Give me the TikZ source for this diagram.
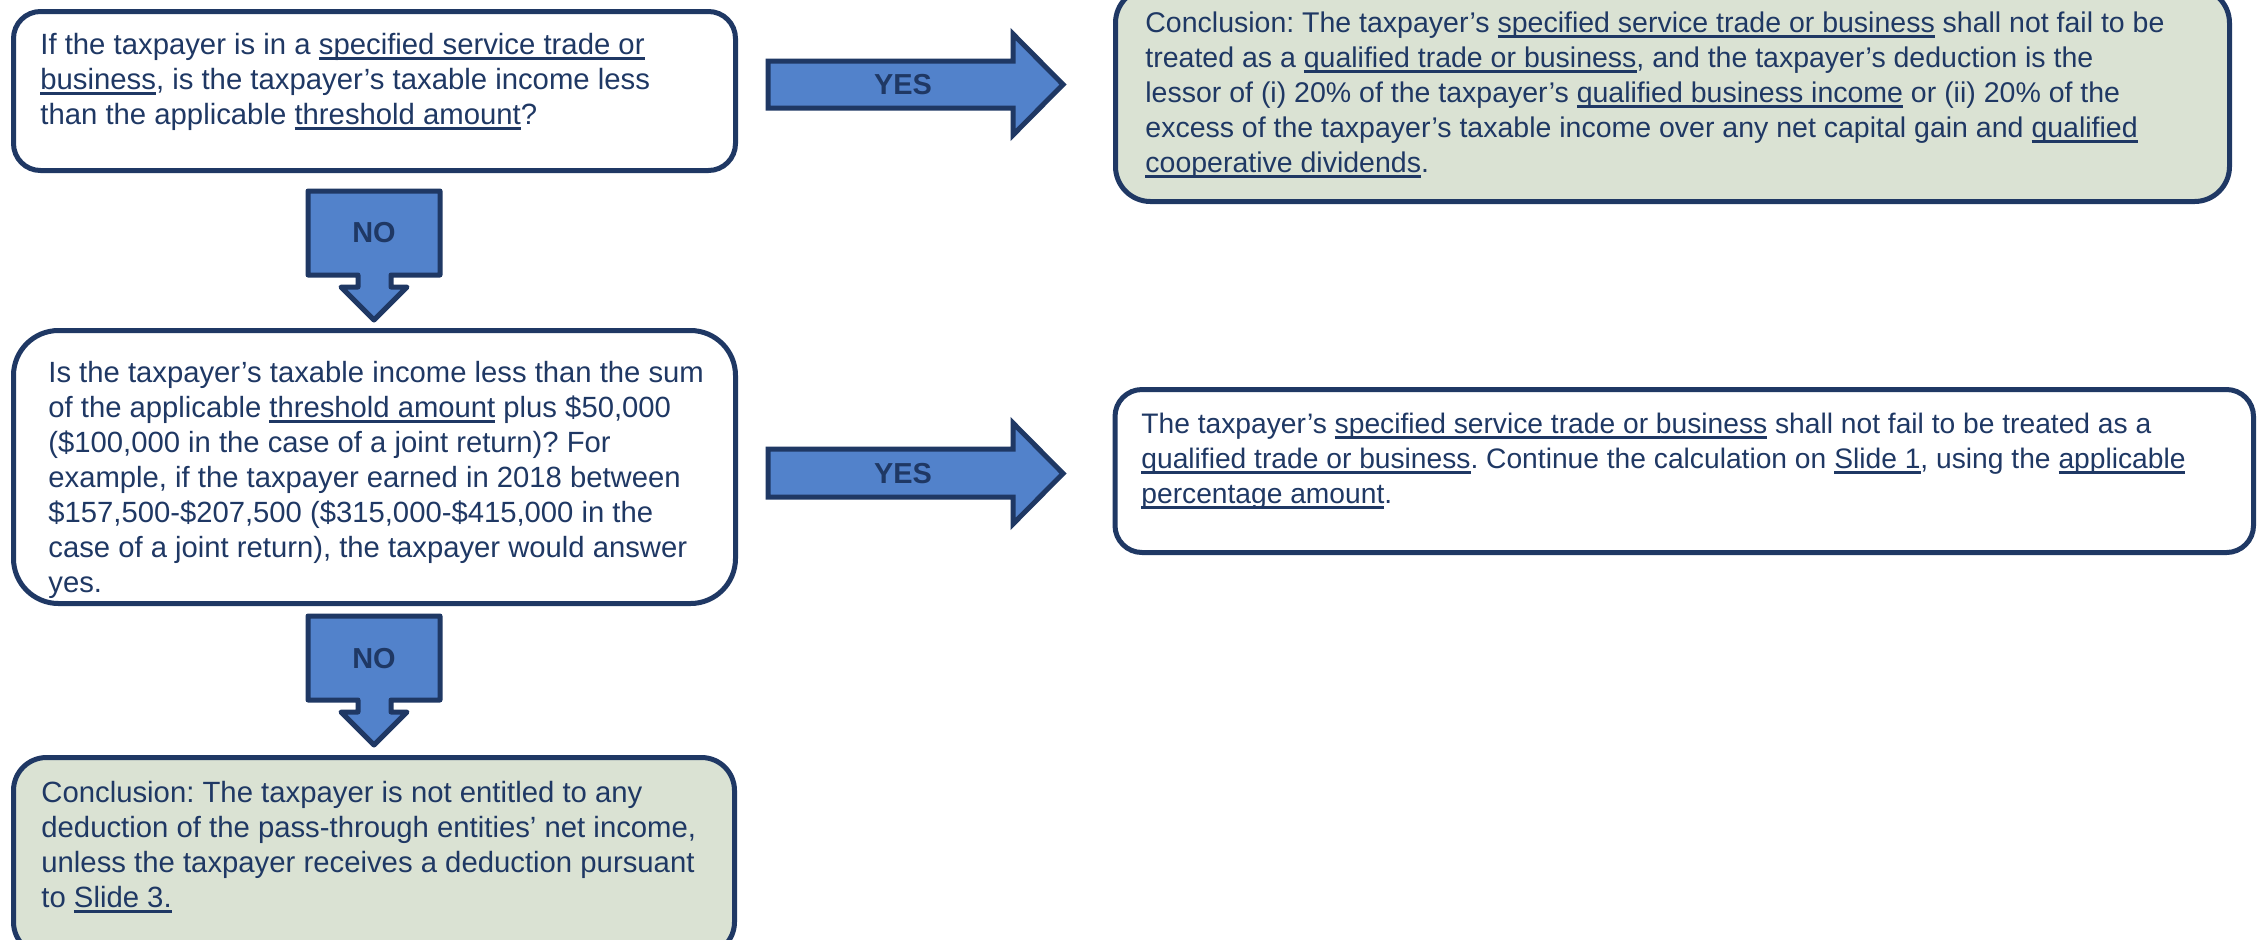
\documentclass[tikz,border=0pt]{standalone}
\usepackage{fontspec}
\setmainfont{Liberation Sans}
\usetikzlibrary{fit}
\definecolor{navy}{RGB}{31,56,100}
\definecolor{arrowblue}{RGB}{82,130,203}
\definecolor{sage}{RGB}{218,226,211}
\newcommand\uln[1]{\setbox0\hbox{#1}\rlap{\rule[-2.7pt]{\wd0}{1.3pt}}\box0\relax}
\tikzset{
  panel/.style={draw=navy, line width=2.5pt, rounded corners=#1, inner sep=0pt},
  txt/.style={anchor=north west, inner sep=0pt, align=left, text=navy,
    font=\fontsize{#1}{17.5pt}\selectfont\frenchspacing},
  blockarrow/.style={draw=navy, fill=arrowblue, line width=2.5pt},
  lbl/.style={text=navy, inner sep=0pt, font=\bfseries\fontsize{14.45pt}{17.5pt}\selectfont}
}
\begin{document}
\begin{tikzpicture}[x=0.5pt, y=-0.5pt]
\clip (0,0) rectangle (2261,939);
\fill[white] (0,0) rectangle (2261,939);

% boxes
\node[panel=13.5pt, fill=white, fit={(13.5,11.5) (735.5,170.5)}] (b1) {};
\node[panel=17.5pt, fill=sage, fit={(1115.5,-12) (2229.5,201.5)}] (b2) {};
\node[panel=22.5pt, fill=white, fit={(13.5,330.5) (735.5,603.5)}] (b3) {};
\node[panel=13.5pt, fill=white, fit={(1115,389.5) (2253.5,552.5)}] (b4) {};
\node[panel=16.5pt, fill=sage, fit={(13.5,757.5) (734.5,955)}] (b5) {};

% texts
\node[txt=14.65pt] (t1) at (40,29.5) {\strut If the taxpayer is in a \uln{specified service trade or}\\
\uln{business}, is the taxpayer’s taxable income less\\
than the applicable \uln{threshold amount}?};

\node[txt=14.25pt] (t2) at (1145,7.5) {\strut Conclusion: The taxpayer’s \uln{specified service trade or business} shall not fail to be\\
treated as a \uln{qualified trade or business}, and the taxpayer’s deduction is the\\
lessor of (i) 20\% of the taxpayer’s \uln{qualified business income} or (ii) 20\% of the\\
excess of the taxpayer’s taxable income over any net capital gain and \uln{qualified}\\
\uln{cooperative dividends}.};

\node[txt=14.62pt] (t3) at (48,357.5) {\strut Is the taxpayer’s taxable income less than the sum\\
of the applicable \uln{threshold amount} plus \$50,000\\
(\$100,000 in the case of a joint return)? For\\
example, if the taxpayer earned in 2018 between\\
\$157,500-\$207,500 (\$315,000-\$415,000 in the\\
case of a joint return), the taxpayer would answer\\
yes.};

\node[txt=14.1pt] (t4) at (1141,408.5) {\strut The taxpayer’s \uln{specified service trade or business} shall not fail to be treated as a\\
\uln{qualified trade or business}. Continue the calculation on \uln{Slide 1}, using the \uln{applicable}\\
\uln{percentage amount}.};

\node[txt=14.65pt] (t5) at (41,777.5) {\strut Conclusion: The taxpayer is not entitled to any\\
deduction of the pass-through entities’ net income,\\
unless the taxpayer receives a deduction pursuant\\
to \uln{Slide 3.}};

% YES arrows
\draw[blockarrow] (768,61) -- (1013,61) -- (1013,34) -- (1063,84.5) -- (1013,135) -- (1013,108) -- (768,108) -- cycle;
\node[lbl] (yes1) at (903,85) {YES};
\draw[blockarrow] (768,449) -- (1013,449) -- (1013,423) -- (1063,473.5) -- (1013,524) -- (1013,497) -- (768,497) -- cycle;
\node[lbl] (yes2) at (903,474) {YES};

% NO arrows
\draw[blockarrow, line join=round] (308,191) -- (440,191) -- (440,275) -- (391,275) -- (391,287) -- (407,287) -- (374,320) -- (341,287) -- (358,287) -- (358,275) -- (308,275) -- cycle;
\node[lbl] (no1) at (374,233) {NO};
\draw[blockarrow, line join=round] (308,616) -- (440,616) -- (440,700) -- (391,700) -- (391,712) -- (407,712) -- (374,745) -- (341,712) -- (358,712) -- (358,700) -- (308,700) -- cycle;
\node[lbl] (no2) at (374,659) {NO};
\end{tikzpicture}
\end{document}
